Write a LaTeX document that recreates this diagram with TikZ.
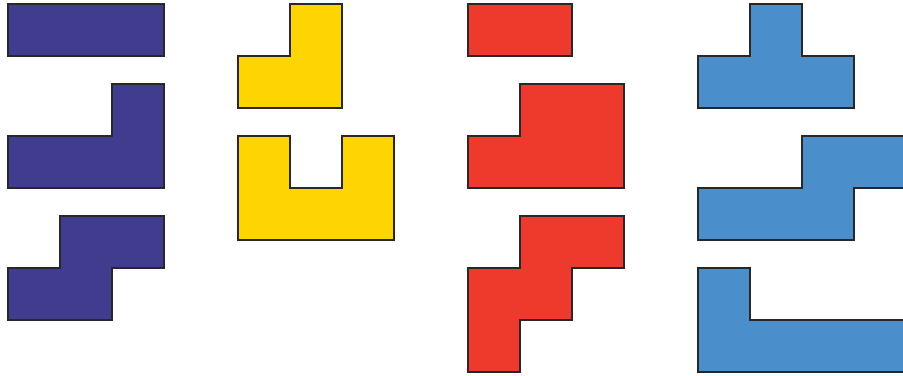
\documentclass[tikz,border=0pt]{standalone}
\usepackage{xcolor}
\usepackage{tikz}
\definecolor{ink}{RGB}{40,40,44}
\definecolor{tilepurple}{RGB}{64,60,142}
\definecolor{tileyellow}{RGB}{254,213,0}
\definecolor{tilered}{RGB}{238,58,44}
\definecolor{tileblue}{RGB}{74,143,203}
\tikzset{
  piece/.style={draw=ink, line width=0.3mm, line join=miter},
  ppiece/.style={piece, fill=tilepurple},
  ypiece/.style={piece, fill=tileyellow},
  rpiece/.style={piece, fill=tilered},
  bpiece/.style={piece, fill=tileblue},
}
\begin{document}
\begin{tikzpicture}[x=0.25mm,y=-0.25mm]
  \useasboundingbox (0,0) rectangle (903,376);
  \clip (0,0) rectangle (903,376);
  % purple
  \draw[ppiece] (8,4) rectangle (164,56);
  \draw[ppiece] (112,84) -- (164,84) -- (164,188) -- (8,188) -- (8,136) -- (112,136) -- cycle;
  \draw[ppiece] (60,216) -- (164,216) -- (164,268) -- (112,268) -- (112,320) -- (8,320)
    -- (8,268) -- (60,268) -- cycle;
  % yellow
  \draw[ypiece] (290,4) -- (342,4) -- (342,108) -- (238,108) -- (238,56) -- (290,56) -- cycle;
  \draw[ypiece] (238,136) -- (290,136) -- (290,188) -- (342,188) -- (342,136) -- (394,136)
    -- (394,240) -- (238,240) -- cycle;
  % red
  \draw[rpiece] (468,4) rectangle (572,56);
  \draw[rpiece] (520,84) -- (624,84) -- (624,188) -- (468,188) -- (468,136) -- (520,136) -- cycle;
  \draw[rpiece] (520,216) -- (624,216) -- (624,268) -- (572,268) -- (572,320) -- (520,320)
    -- (520,372) -- (468,372) -- (468,268) -- (520,268) -- cycle;
  % blue
  \draw[bpiece] (750,4) -- (802,4) -- (802,56) -- (854,56) -- (854,108) -- (698,108)
    -- (698,56) -- (750,56) -- cycle;
  \draw[bpiece] (802,136) -- (910,136) -- (910,188) -- (854,188) -- (854,240) -- (698,240)
    -- (698,188) -- (802,188) -- cycle;
  \draw[bpiece] (698,268) -- (750,268) -- (750,320) -- (910,320) -- (910,372) -- (698,372) -- cycle;
\end{tikzpicture}
\end{document}
